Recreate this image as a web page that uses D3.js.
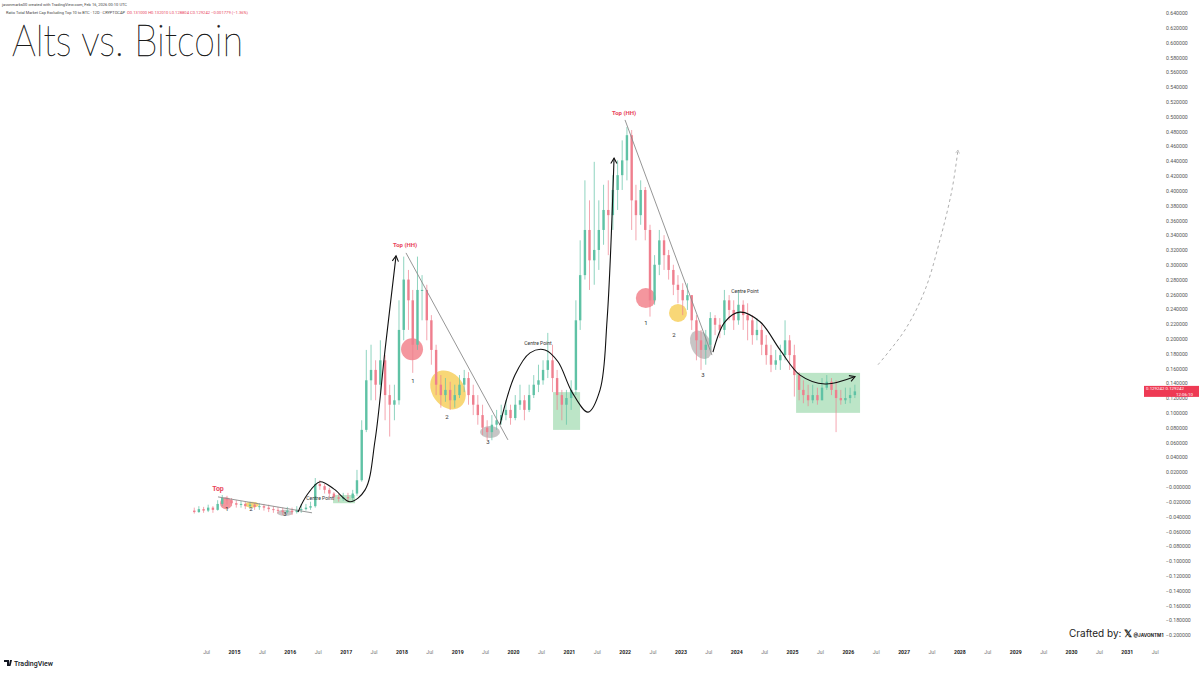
<!DOCTYPE html>
<html><head><meta charset="utf-8">
<script src="https://cdn.jsdelivr.net/npm/d3@7"></script>
<style>body{margin:0;background:#fff;}svg{display:block;}</style>
</head><body>
<svg id="c" width="1199" height="673"></svg>
<script>
// ---------- DATA (monthly candles, Apr 2014 .. Feb 2026) ----------
const firstMonth = [2014, 3];
const firstOpen = -0.032;
const closes = [
 -0.034,-0.030,-0.032,-0.028,-0.031,-0.023,-0.015,-0.018,-0.022,
 -0.024,-0.023,-0.026,-0.024,-0.027,-0.026,-0.028,-0.030,-0.031,-0.032,-0.034,-0.032,
 -0.034,-0.031,-0.030,-0.028,-0.026,0.004,0.001,-0.004,-0.009,-0.014,-0.016,-0.014,
 -0.015,-0.009,0.009,0.077,0.144,0.158,0.138,0.171,0.124,0.111,0.117,0.212,
 0.280,0.252,0.192,0.266,0.266,0.225,0.185,0.138,0.124,0.131,0.117,0.124,
 0.138,0.147,0.124,0.111,0.097,0.080,0.074,0.084,0.090,0.097,0.104,0.093,
 0.111,0.117,0.104,0.124,0.138,0.144,0.158,0.171,0.147,0.124,0.111,0.120,
 0.131,0.225,0.286,0.347,0.306,0.320,0.347,0.374,0.367,0.401,0.421,0.441,
 0.475,0.387,0.367,0.401,0.347,0.252,0.300,0.333,0.313,0.293,0.273,0.266,
 0.252,0.259,0.225,0.198,0.185,0.192,0.228,0.219,0.212,0.252,0.239,0.225,
 0.246,0.232,0.225,0.205,0.212,0.192,0.178,0.165,0.171,0.178,0.198,0.178,
 0.151,0.131,0.124,0.117,0.124,0.117,0.134,0.142,0.131,0.120,0.117,0.120,
 0.124,0.129
];
const highs = [
 -0.028,-0.026,-0.027,-0.024,-0.026,-0.018,-0.011,-0.012,-0.015,
 -0.018,-0.019,-0.020,-0.020,-0.022,-0.022,-0.023,-0.024,-0.026,-0.027,-0.028,-0.027,
 -0.028,-0.026,-0.023,-0.023,-0.020,0.012,0.009,0.004,-0.001,-0.007,-0.009,-0.008,
 -0.008,-0.004,0.023,0.090,0.185,0.192,0.171,0.198,0.178,0.138,0.138,0.252,
 0.311,0.293,0.266,0.311,0.286,0.273,0.232,0.192,0.151,0.147,0.142,0.138,
 0.151,0.158,0.155,0.138,0.124,0.111,0.090,0.097,0.104,0.111,0.117,0.111,
 0.124,0.138,0.124,0.138,0.151,0.165,0.171,0.208,0.192,0.158,0.131,0.131,
 0.144,0.252,0.333,0.414,0.387,0.439,0.387,0.408,0.414,0.421,0.441,0.468,
 0.486,0.482,0.408,0.414,0.405,0.354,0.313,0.347,0.340,0.320,0.300,0.286,
 0.275,0.275,0.259,0.232,0.212,0.212,0.236,0.232,0.228,0.266,0.259,0.252,
 0.266,0.252,0.248,0.232,0.228,0.219,0.205,0.192,0.185,0.192,0.225,0.205,
 0.192,0.155,0.144,0.138,0.138,0.134,0.147,0.151,0.147,0.144,0.131,0.134,
 0.134,0.138
];
const lows = [
 -0.036,-0.035,-0.035,-0.034,-0.035,-0.032,-0.026,-0.024,-0.026,
 -0.028,-0.028,-0.030,-0.030,-0.031,-0.031,-0.032,-0.034,-0.035,-0.036,-0.038,-0.036,
 -0.038,-0.036,-0.035,-0.032,-0.031,-0.028,-0.004,-0.009,-0.014,-0.018,-0.020,-0.019,
 -0.020,-0.018,-0.012,0.007,0.074,0.117,0.117,0.124,0.090,0.068,0.090,0.111,
 0.198,0.212,0.154,0.185,0.225,0.198,0.165,0.124,0.107,0.115,0.104,0.107,
 0.120,0.128,0.111,0.097,0.084,0.070,0.063,0.063,0.077,0.084,0.090,0.084,
 0.090,0.104,0.090,0.101,0.120,0.128,0.138,0.147,0.128,0.104,0.090,0.084,
 0.104,0.124,0.212,0.280,0.266,0.273,0.293,0.327,0.313,0.347,0.374,0.401,
 0.414,0.347,0.333,0.354,0.333,0.230,0.246,0.286,0.293,0.280,0.259,0.248,
 0.232,0.239,0.212,0.171,0.158,0.165,0.185,0.205,0.201,0.205,0.225,0.212,
 0.219,0.212,0.198,0.192,0.198,0.178,0.165,0.155,0.158,0.158,0.171,0.158,
 0.122,0.117,0.113,0.109,0.113,0.111,0.117,0.131,0.124,0.074,0.111,0.112,
 0.113,0.120
];
const yTickValues = [0.64,0.62,0.60,0.58,0.56,0.54,0.52,0.50,0.48,0.46,0.44,0.42,0.40,0.38,0.36,0.34,0.32,0.30,0.28,0.26,0.24,0.22,0.20,0.18,0.16,0.14,0.12,0.10,0.08,0.06,0.04,0.02,0,-0.02,-0.04,-0.06,-0.08,-0.10,-0.12,-0.14,-0.16,-0.18,-0.20];
const xTickLabels = ["Jul","2015","Jul","2016","Jul","2017","Jul","2018","Jul","2019","Jul","2020","Jul","2021","Jul","2022","Jul","2023","Jul","2024","Jul","2025","Jul","2026","Jul","2027","Jul","2028","Jul","2029","Jul","2030","Jul","2031","Jul"];
const xTickYears = [2014.5,2015,2015.5,2016,2016.5,2017,2017.5,2018,2018.5,2019,2019.5,2020,2020.5,2021,2021.5,2022,2022.5,2023,2023.5,2024,2024.5,2025,2025.5,2026,2026.5,2027,2027.5,2028,2028.5,2029,2029.5,2030,2030.5,2031,2031.5];

// annotations in (year, value)
const redCircles = [[2014.857,-0.022,6,6],[2018.19,0.186,11,11],[2022.38,0.255,10,10]];
const yellowEllipses = [[2015.32,-0.024,7,3,0],[2018.835,0.131,16,21,-35],[2022.957,0.235,9,9,0]];
const grayEllipses = [[2015.914,-0.035,8,3,0],[2019.588,0.074,10,6,0],[2023.369,0.192,10,15,-25]];
const greenBoxes = [[2016.774,2017.168,-0.011,-0.022],[2020.717,2021.201,0.128,0.077],[2025.072,2026.219,0.154,0.100]];
const trendLines = [[[2014.713,-0.0135],[2016.398,-0.035]],[[2018.082,0.316],[2019.91,0.0635]],[[2022.007,0.4956],[2023.566,0.178]]];
const curveA = [[2016.147,-0.034],[2016.308,-0.011],[2016.541,0.007],[2016.792,-0.003],[2017.079,-0.020],[2017.348,-0.004],[2017.527,0.063],[2017.706,0.185],[2017.903,0.312]];
const curveB = [[2019.767,0.084],[2020.036,0.151],[2020.305,0.181],[2020.573,0.185],[2020.806,0.169],[2021.057,0.128],[2021.344,0.101],[2021.559,0.131],[2021.685,0.2255],[2021.81,0.444]];
const curveC = [[2023.584,0.182],[2023.799,0.223],[2024.068,0.236],[2024.427,0.223],[2024.785,0.185],[2025.143,0.151],[2025.591,0.139],[2026.129,0.149]];
const dashedCurve = [[2026.541,0.165],[2027.025,0.212],[2027.384,0.266],[2027.652,0.3335],[2027.867,0.401],[2027.975,0.455]];
const textLabels = [
 ["Top",2014.713,-0.005,"#e8445a",7,"bold"],
 ["1",2014.875,-0.032,"#333",6,"normal"],["2",2015.305,-0.032,"#333",6,"normal"],["3",2015.914,-0.039,"#333",6,"normal"],
 ["Top (HH)",2018.065,0.324,"#e8445a",6,"bold"],["Top (HH)",2021.989,0.502,"#e8445a",6,"bold"],
 ["1",2018.208,0.140,"#333",6,"normal"],["2",2018.817,0.092,"#333",6,"normal"],["3",2019.552,0.058,"#333",6,"normal"],
 ["1",2022.384,0.219,"#333",6,"normal"],["2",2022.885,0.203,"#333",6,"normal"],["3",2023.405,0.149,"#333",6,"normal"],
 ["Centre Point",2016.541,-0.018,"#333",5,"normal"],["Centre Point",2020.448,0.192,"#333",5,"normal"],["Centre Point",2024.158,0.262,"#333",5,"normal"]
];

// ---------- SCALES ----------
const svg = d3.select("#c");
const yr = t => { const y = Math.floor(t); const s = Date.UTC(y,0,1), e = Date.UTC(y+1,0,1); return new Date(s + (e-s)*(t-y)); };
const x = d3.scaleUtc().domain([yr(2015), yr(2031)]).range([234, 1126.8]);
const y = d3.scaleLinear().domain([-0.2, 0.64]).range([635, 13]);
const X = t => x(yr(t));

// ---------- AXES ----------
const yAxis = d3.axisRight(y).tickValues(yTickValues).tickSize(0)
  .tickFormat(v => (Math.abs(v) < 1e-9 ? "\u22120.000000" : (v < 0 ? "\u2212" + Math.abs(v).toFixed(6) : v.toFixed(6))));
const ya = svg.append("g").attr("transform","translate(1164,0)").call(yAxis);
ya.select(".domain").remove();
ya.selectAll("text").attr("font-family","Roboto, sans-serif").attr("font-size",5.2).attr("fill","#555").attr("x",2);

const xa = svg.append("g").attr("transform","translate(0,647)")
  .call(d3.axisBottom(x).tickValues(xTickYears.map(yr)).tickSize(0).tickFormat((d,i)=>xTickLabels[i]));
xa.select(".domain").remove();
xa.selectAll("text").attr("font-family","Roboto, sans-serif").attr("font-size",5.2)
  .attr("fill",(d,i)=>xTickLabels[i]==="Jul"?"#777":"#222").attr("font-weight",(d,i)=>xTickLabels[i]==="Jul"?"normal":"bold");

// ---------- ANNOTATION BACK SHAPES ----------
const ann = svg.append("g");
ann.selectAll(".gb").data(greenBoxes).join("rect")
  .attr("x",d=>X(d[0])).attr("width",d=>X(d[1])-X(d[0]))
  .attr("y",d=>y(d[2])).attr("height",d=>y(d[3])-y(d[2]))
  .attr("fill","#a6dcb4").attr("opacity",0.75);
ann.selectAll(".rc").data(redCircles).join("ellipse")
  .attr("cx",d=>X(d[0])).attr("cy",d=>y(d[1])).attr("rx",d=>d[2]).attr("ry",d=>d[3])
  .attr("fill","#f17c86").attr("opacity",0.8);
ann.selectAll(".ye").data(yellowEllipses).join("ellipse")
  .attr("transform",d=>`translate(${X(d[0])},${y(d[1])}) rotate(${d[4]})`).attr("rx",d=>d[2]).attr("ry",d=>d[3])
  .attr("fill","#f6cd55").attr("opacity",0.8);
ann.selectAll(".ge").data(grayEllipses).join("ellipse")
  .attr("transform",d=>`translate(${X(d[0])},${y(d[1])}) rotate(${d[4]})`).attr("rx",d=>d[2]).attr("ry",d=>d[3])
  .attr("fill","#b9b6b6").attr("opacity",0.8);

// ---------- CANDLES ----------
const start = new Date(Date.UTC(firstMonth[0], firstMonth[1], 1));
const candles = closes.map((c,i)=>({
  d: d3.utcDay.offset(d3.utcMonth.offset(start,i),15),
  o: i===0?firstOpen:closes[i-1], c, h: highs[i], l: lows[i]
}));
const cg = svg.append("g");
cg.selectAll("line").data(candles).join("line")
  .attr("x1",d=>x(d.d)).attr("x2",d=>x(d.d))
  .attr("y1",d=>y(Math.max(d.h,d.o,d.c))).attr("y2",d=>y(Math.min(d.l,d.o,d.c)))
  .attr("stroke",d=>d.c>=d.o?"#5fc2a5":"#ef7f8e").attr("stroke-width",0.7);
cg.selectAll("rect").data(candles).join("rect")
  .attr("x",d=>x(d.d)-1.2).attr("width",2.4)
  .attr("y",d=>y(Math.max(d.o,d.c))).attr("height",d=>Math.max(1,Math.abs(y(d.o)-y(d.c))))
  .attr("fill",d=>d.c>=d.o?"#5fc2a5":"#ef7f8e");

// ---------- LINES / CURVES ----------
svg.append("defs").append("marker").attr("id","arr").attr("viewBox","0 0 10 10").attr("refX",8).attr("refY",5)
  .attr("markerWidth",7).attr("markerHeight",7).attr("orient","auto-start-reverse")
  .append("path").attr("d","M1,1 L8,5 L1,9").attr("fill","none").attr("stroke","#111").attr("stroke-width",1.4);
svg.select("defs").append("marker").attr("id","arrg").attr("viewBox","0 0 10 10").attr("refX",8).attr("refY",5)
  .attr("markerWidth",6).attr("markerHeight",6).attr("orient","auto")
  .append("path").attr("d","M1,1 L8,5 L1,9").attr("fill","none").attr("stroke","#999").attr("stroke-width",1);

const lg = d3.line().x(d=>X(d[0])).y(d=>y(d[1]));
svg.selectAll(".tl").data(trendLines).join("path").attr("d",lg).attr("stroke","#8a8a8a").attr("stroke-width",0.9).attr("fill","none");
const cl = d3.line().x(d=>X(d[0])).y(d=>y(d[1])).curve(d3.curveCatmullRom.alpha(0.5));
[curveA,curveB,curveC].forEach(c=>svg.append("path").attr("d",cl(c)).attr("fill","none").attr("stroke","#111").attr("stroke-width",1.1).attr("marker-end","url(#arr)"));
svg.append("path").attr("d",cl(dashedCurve)).attr("fill","none").attr("stroke","#999").attr("stroke-width",0.8).attr("stroke-dasharray","3,3").attr("marker-end","url(#arrg)");

// ---------- TEXT LABELS ----------
svg.selectAll(".lbl").data(textLabels).join("text")
  .attr("x",d=>X(d[1])).attr("y",d=>y(d[2])).attr("text-anchor","middle")
  .attr("font-family","Roboto, sans-serif").attr("font-size",d=>d[4]).attr("font-weight",d=>d[5]).attr("fill",d=>d[3])
  .text(d=>d[0]);

// ---------- HEADER ----------
svg.append("text").attr("x",2).attr("y",6).attr("font-family","Roboto, sans-serif").attr("font-size",4).attr("fill","#444")
  .attr("textLength",125).attr("lengthAdjust","spacingAndGlyphs")
  .text("javonmarks00 created with TradingView.com, Feb 16, 2026 00:10 UTC");
svg.append("text").attr("x",6).attr("y",14).attr("font-family","Roboto, sans-serif").attr("font-size",4).attr("fill","#444")
  .attr("textLength",119).attr("lengthAdjust","spacingAndGlyphs")
  .text("Ratio Total Market Cap Excluding Top 10 to BTC \u00b7 12D \u00b7 CRYPTOCAP");
svg.append("text").attr("x",127).attr("y",14).attr("font-family","Roboto, sans-serif").attr("font-size",4).attr("fill","#e8445a")
  .attr("textLength",121).attr("lengthAdjust","spacingAndGlyphs")
  .text("O0.131000 H0.132010 L0.128804 C0.129242 \u22120.001779 (\u22121.36%)");
svg.append("text").attr("x",12).attr("y",56).attr("font-family","Lato, sans-serif").attr("font-weight",100)
  .attr("font-size",44).attr("fill","#1a1a1a").attr("stroke","#1a1a1a").attr("stroke-width",0.45)
  .attr("textLength",231).attr("lengthAdjust","spacingAndGlyphs").text("Alts vs. Bitcoin");

// price label
const last = candles[candles.length-1];
const pg = svg.append("g").attr("transform",`translate(0,${y(last.c)})`);
pg.append("rect").attr("x",1144).attr("y",-5.5).attr("width",55).attr("height",11).attr("fill","#ee3a54");
pg.append("text").attr("x",1146).attr("y",-1).attr("font-family","Roboto, sans-serif").attr("font-size",4.4).attr("fill","#fff").text("0.129242  0.129242");
pg.append("text").attr("x",1176).attr("y",4.5).attr("font-family","Roboto, sans-serif").attr("font-size",4.4).attr("fill","#fff").text("12:06:10");

// footer
const cr = svg.append("text").attr("x",1069).attr("y",637).attr("font-family","Inter, 'Open Sans', sans-serif").attr("fill","#222");
cr.append("tspan").attr("font-size",10).text("Crafted by: ");
cr.append("tspan").attr("font-size",9.5).attr("font-weight","bold").text("\ud835\udd4f");
cr.append("tspan").attr("font-size",4.6).attr("font-weight","bold").attr("dx",1.2).text("@JAVONTM1");
const tv = svg.append("g").attr("transform","translate(4,660)");
tv.append("path").attr("d","M0,0 H5 V6 H3 V2 H0 Z M6,0 H8 L6.5,6 H4.8 Z").attr("fill","#131722");
tv.append("text").attr("x",10).attr("y",6).attr("font-family","Roboto, sans-serif").attr("font-weight",500).attr("font-size",7).attr("fill","#131722").text("TradingView");
</script>
</body></html>
